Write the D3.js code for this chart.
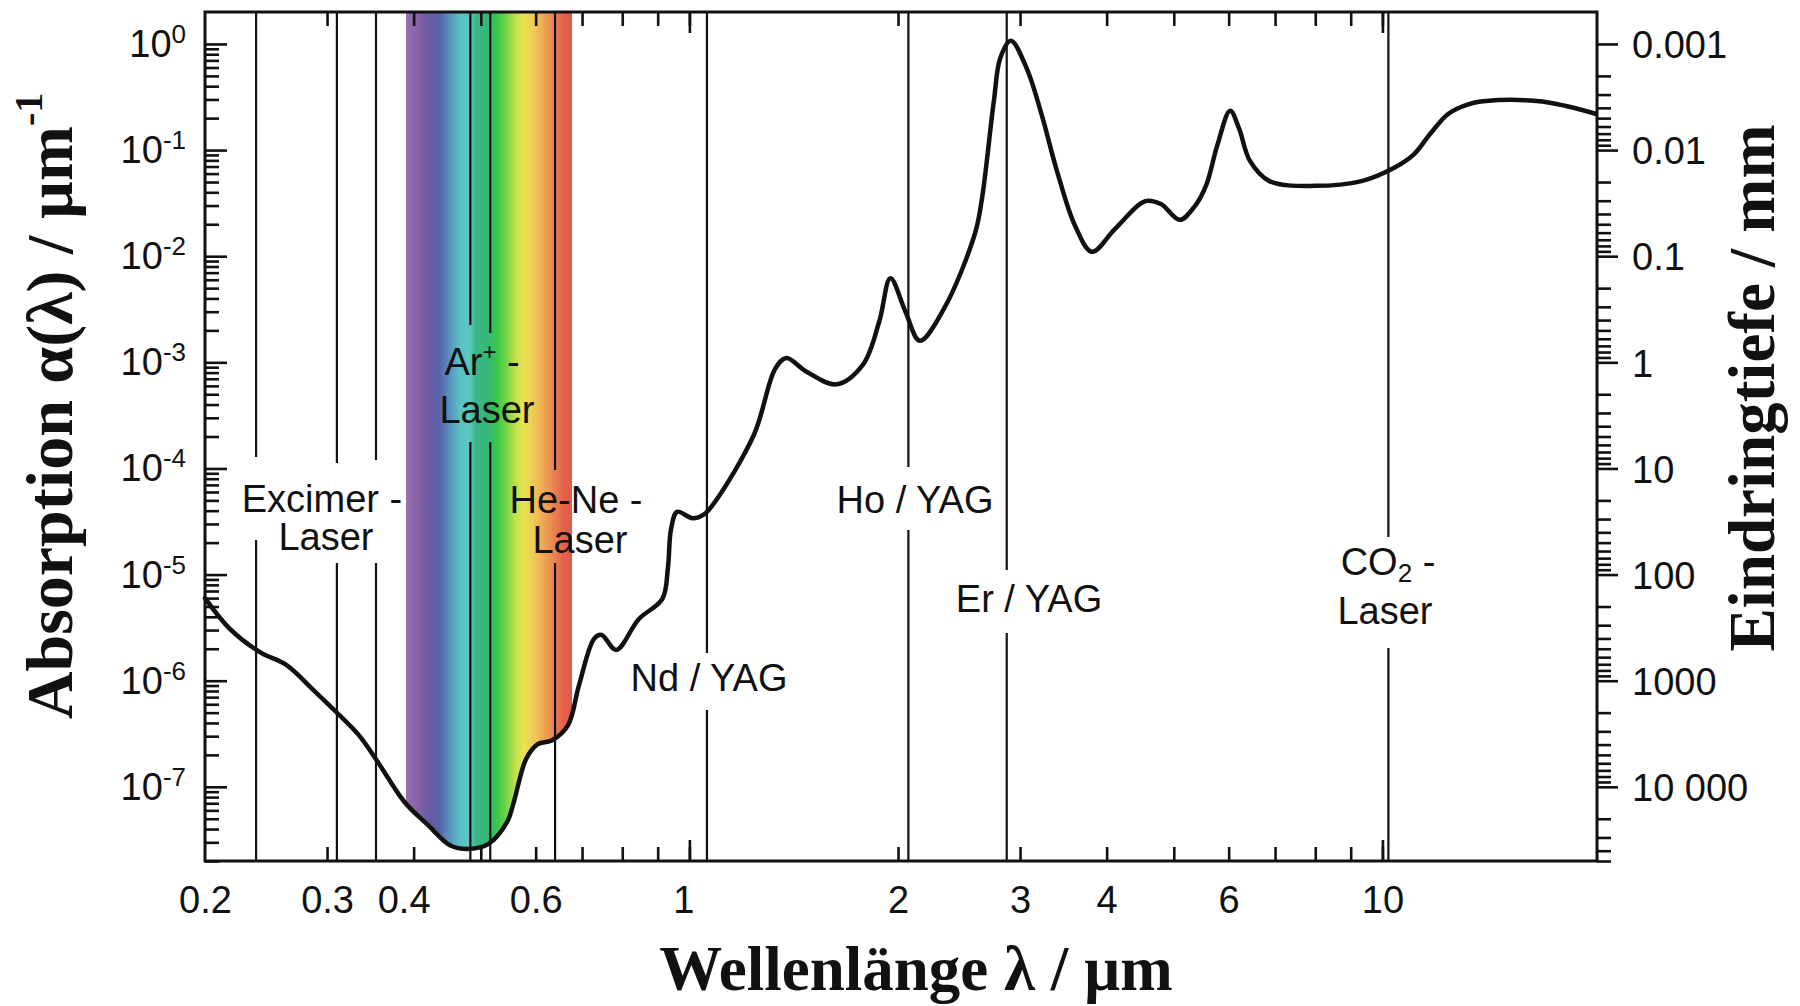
<!DOCTYPE html>
<html><head><meta charset="utf-8">
<script src="https://cdn.jsdelivr.net/npm/d3@7"></script>
<style>html,body{margin:0;padding:0;background:#fff;} svg{display:block;}</style>
</head><body>
<svg id="chart" width="1800" height="1006"></svg>
<script>
// ---------- data ----------
const wavelength = [0.200,0.217,0.240,0.262,0.286,0.309,0.333,0.353,0.388,0.419,0.452,0.481,0.513,0.546,0.558,0.581,0.603,0.634,0.668,0.693,0.729,0.747,0.784,0.845,0.914,0.931,0.941,0.960,1.01,1.05,1.09,1.24,1.33,1.38,1.47,1.63,1.78,1.88,1.95,2.05,2.15,2.33,2.58,2.64,2.75,2.81,2.91,3.07,3.22,3.40,3.60,3.81,4.11,4.55,4.79,5.10,5.37,5.57,5.78,6.03,6.21,6.44,6.87,8.0,9.33,10.4,11.1,11.7,12.45,13.3,14.1,16.7,18.4,20.3];
const absorption = [6.0e-6,3.1e-6,1.86e-6,1.41e-6,8.3e-7,5.1e-7,3.1e-7,1.82e-7,7.2e-8,4.4e-8,2.8e-8,2.6e-8,2.9e-8,4.7e-8,7.2e-8,1.82e-7,2.5e-7,2.75e-7,3.8e-7,9.1e-7,2.5e-6,2.7e-6,1.95e-6,3.8e-6,5.9e-6,1.15e-5,2.7e-5,3.9e-5,3.4e-5,3.7e-5,4.9e-5,2.1e-4,8.7e-4,1.1e-3,8.3e-4,6.2e-4,9.5e-4,2.45e-3,6.2e-3,3.0e-3,1.6e-3,3.2e-3,1.6e-2,3.3e-2,0.29,0.74,1.07,0.58,0.22,0.060,0.0195,0.011,0.018,0.033,0.031,0.022,0.030,0.047,0.112,0.235,0.16,0.079,0.051,0.046,0.051,0.068,0.091,0.14,0.22,0.27,0.29,0.29,0.26,0.22];

const xTickValues = [0.2,0.3,0.4,0.6,1,2,3,4,6,10];
const xTickLabels = ["0.2","0.3","0.4","0.6","1","2","3","4","6","10"];
const xMinorTicks = [0.3,0.4,0.5,0.6,0.7,0.8,0.9,1,2,3,4,5,6,7,8,9,10];
const xMajorTicks = [1,10];
const yExponents = [0,-1,-2,-3,-4,-5,-6,-7];
const depthValuesMm = [0.001,0.01,0.1,1,10,100,1000,10000];
const depthLabels = ["0.001","0.01","0.1","1","10","100","1000","10 000"];
const laserWavelengths = [0.237,0.31,0.353,0.483,0.516,0.64,1.06,2.07,2.87,10.2];
const visibleBand = [0.39, 0.677];
const bandColors = ["#9a6fb0","#8a64aa","#6a5aa4","#5a62aa","#5a90bc","#58c0c4","#5cc8c0","#3cb68a","#34b870","#3cc84a","#6cd444","#c4e04c","#e8e452","#f0c456","#ec9a52","#e8784c","#e4604c","#e05a4c"];
const bandStops = [0,0.06,0.14,0.20,0.26,0.32,0.38,0.42,0.50,0.55,0.60,0.66,0.71,0.78,0.85,0.91,0.95,1];

// ---------- layout ----------
const M = {left:205, right:1597, top:12, bottom:861};
const FONT = "'Liberation Sans', Arial, Helvetica, sans-serif";
const SERIF = "'Liberation Serif', 'Times New Roman', serif";
const INK = "#111";
const laserGaps = [[457,540],[463,563],[460,563],[325,442],[333,442],[470,563],[653,710],[467,530],[570,633],[537,648]];
const xLabelNudge = {"0.4":-10, "1":-6};

const svg = d3.select("#chart");
svg.append("rect").attr("width",1800).attr("height",1006).attr("fill","#fff");

const x = d3.scaleLog().domain([0.2, 20.4]).range([M.left, M.right]);
const y = d3.scaleLog().domain([2e-8, 2]).range([M.bottom, M.top]);

const pts = wavelength.map((w,i)=>({w, a:absorption[i]}));
const curve = d3.curveCatmullRom.alpha(0.5);

// ---------- visible spectrum band (clipped above curve) ----------
const defs = svg.append("defs");
const grad = defs.append("linearGradient").attr("id","rainbow")
  .attr("gradientUnits","userSpaceOnUse")
  .attr("x1", x(visibleBand[0])).attr("x2", x(visibleBand[1])).attr("y1",0).attr("y2",0);
bandStops.forEach((s,i)=>grad.append("stop").attr("offset",s).attr("stop-color",bandColors[i]));
const areaAbove = d3.area().x(d=>x(d.w)).y0(M.top).y1(d=>y(d.a)).curve(curve);
defs.append("clipPath").attr("id","aboveCurve").append("path").attr("d", areaAbove(pts));
svg.append("rect")
  .attr("x", x(visibleBand[0])).attr("width", x(visibleBand[1]) - x(visibleBand[0]))
  .attr("y", M.top).attr("height", M.bottom - M.top)
  .attr("fill","url(#rainbow)").attr("clip-path","url(#aboveCurve)");

// ---------- laser lines ----------
const laserG = svg.append("g").attr("stroke",INK).attr("stroke-width",2.2);
laserWavelengths.forEach((w,i)=>{
  const gx = x(w), g = laserGaps[i];
  laserG.append("line").attr("x1",gx).attr("x2",gx).attr("y1",M.top).attr("y2",g[0]);
  laserG.append("line").attr("x1",gx).attr("x2",gx).attr("y1",g[1]).attr("y2",M.bottom);
});

// ---------- curve ----------
svg.append("path").attr("d", d3.line().x(d=>x(d.w)).y(d=>y(d.a)).curve(curve)(pts))
  .attr("fill","none").attr("stroke",INK).attr("stroke-width",4.5)
  .attr("stroke-linejoin","round").attr("stroke-linecap","round");

// ---------- axes (ticks) ----------
function styleAxis(g){ g.select(".domain").remove(); g.selectAll("line").attr("stroke",INK).attr("stroke-width",2.6); }
svg.append("g").attr("transform",`translate(0,${M.bottom})`)
  .call(d3.axisBottom(x).tickValues(xMinorTicks).tickSize(-14).tickFormat("")).call(styleAxis);
svg.append("g").attr("transform",`translate(0,${M.bottom})`)
  .call(d3.axisBottom(x).tickValues(xMajorTicks).tickSize(-21).tickFormat("")).call(styleAxis);
svg.append("g").attr("transform",`translate(0,${M.top})`)
  .call(d3.axisTop(x).tickValues(xMinorTicks).tickSize(-14).tickFormat("")).call(styleAxis);
svg.append("g").attr("transform",`translate(0,${M.top})`)
  .call(d3.axisTop(x).tickValues(xMajorTicks).tickSize(-21).tickFormat("")).call(styleAxis);
const bl = svg.append("g").attr("transform",`translate(0,${M.bottom})`)
  .call(d3.axisBottom(x).tickValues(xTickValues).tickSize(0).tickPadding(25)
    .tickFormat((d,i)=>xTickLabels[i]));
bl.select(".domain").remove();
bl.selectAll("text").attr("font-size",38).attr("font-family",FONT).attr("fill",INK)
  .attr("dx",(d,i)=>xLabelNudge[xTickLabels[i]]||0);

const leftMinor = [], leftMajor = [];
for (let k=-8;k<=0;k++) for (let m=1;m<=9;m++){
  const v = m*Math.pow(10,k);
  if (v>=2e-8*0.999 && v<=1.0001) (m===1?leftMajor:leftMinor).push(v);
}
svg.append("g").attr("transform",`translate(${M.left},0)`)
  .call(d3.axisRight(y).tickValues(leftMinor).tickSize(14).tickFormat("")).call(styleAxis);
svg.append("g").attr("transform",`translate(${M.left},0)`)
  .call(d3.axisRight(y).tickValues(leftMajor).tickSize(22).tickFormat("")).call(styleAxis);
const ll = svg.append("g").attr("font-family",FONT).attr("fill",INK).attr("text-anchor","end");
yExponents.forEach(e=>{
  const ty = y(Math.pow(10,e));
  const t = ll.append("text").attr("x",186).attr("y",ty+13).attr("font-size",38);
  t.append("tspan").text("10");
  t.append("tspan").attr("font-size",26).attr("dy",-14).text(String(e));
});

const rightMinor = [];
for (let k=-3;k<=4;k++) for (let m=2;m<=9;m++){
  const a = 1/(m*Math.pow(10,k)*1000);
  if (a>=2e-8*0.999) rightMinor.push(a);
}
const rightMajor = depthValuesMm.map(d=>1/(d*1000));
svg.append("g").attr("transform",`translate(${M.right},0)`)
  .call(d3.axisRight(y).tickValues(rightMinor).tickSize(14).tickFormat("")).call(styleAxis);
const rl = svg.append("g").attr("transform",`translate(${M.right},0)`)
  .call(d3.axisRight(y).tickValues(rightMajor).tickSize(21).tickPadding(14)
    .tickFormat((d,i)=>depthLabels[i])).call(styleAxis);
rl.selectAll("text").attr("font-size",38).attr("font-family",FONT).attr("fill",INK).attr("dy","0.36em");

// ---------- frame ----------
svg.append("rect").attr("x",M.left).attr("y",M.top).attr("width",M.right-M.left).attr("height",M.bottom-M.top)
  .attr("fill","none").attr("stroke",INK).attr("stroke-width",3);

// ---------- laser labels ----------
const lab = svg.append("g").attr("font-family",FONT).attr("font-size",38).attr("fill",INK).attr("text-anchor","middle");
lab.append("text").attr("x",322).attr("y",512).text("Excimer -");
lab.append("text").attr("x",326).attr("y",550).text("Laser");
const ar = lab.append("text").attr("x",482).attr("y",375);
ar.append("tspan").text("Ar");
ar.append("tspan").attr("font-size",24).attr("dy",-15).text("+");
ar.append("tspan").attr("dy",15).text(" -");
lab.append("text").attr("x",487).attr("y",423).text("Laser");
lab.append("text").attr("x",576).attr("y",513).text("He-Ne -");
lab.append("text").attr("x",580).attr("y",553).text("Laser");
lab.append("text").attr("x",709).attr("y",691).text("Nd / YAG");
lab.append("text").attr("x",915).attr("y",513).text("Ho / YAG");
lab.append("text").attr("x",1029).attr("y",612).text("Er / YAG");
const co = lab.append("text").attr("x",1388).attr("y",575);
co.append("tspan").text("CO");
co.append("tspan").attr("font-size",26).attr("dy",7).text("2");
co.append("tspan").attr("dy",-7).text(" -");
lab.append("text").attr("x",1385).attr("y",624).text("Laser");

// ---------- axis titles ----------
svg.append("text").attr("x",916).attr("y",990).attr("text-anchor","middle")
  .attr("font-family",SERIF).attr("font-weight","bold").attr("font-size",63).attr("fill",INK)
  .text("Wellenlänge λ / µm");
const lt = svg.append("text").attr("transform","translate(72,406) rotate(-90)").attr("text-anchor","middle")
  .attr("font-family",SERIF).attr("font-weight","bold").attr("font-size",66).attr("fill",INK);
lt.append("tspan").text("Absorption α(λ) / µm");
lt.append("tspan").attr("font-size",40).attr("dy",-30).text("-1");
svg.append("text").attr("transform","translate(1774,388) rotate(-90)").attr("text-anchor","middle")
  .attr("font-family",SERIF).attr("font-weight","bold").attr("font-size",65).attr("fill",INK)
  .text("Eindringtiefe / mm");
</script>
</body></html>
